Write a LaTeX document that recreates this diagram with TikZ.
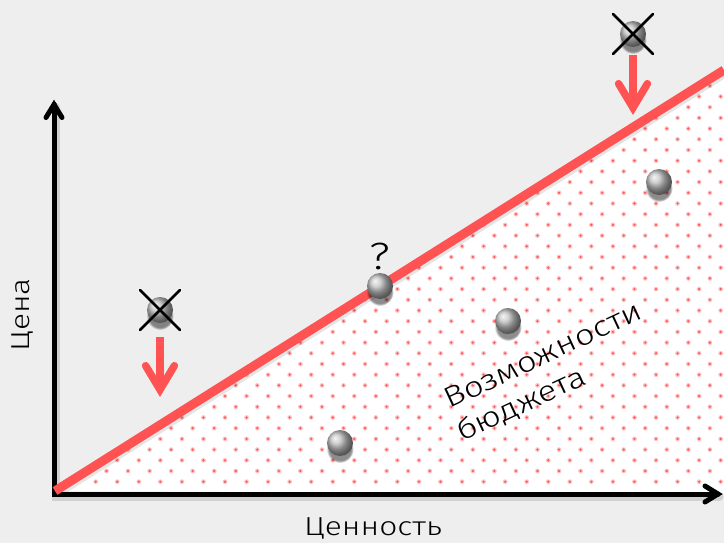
\documentclass[tikz,border=0pt]{standalone}
\usepackage{fontspec}
\setmainfont{Fira Sans}[UprightFont={* Light}, FakeStretch=1.22]
\usetikzlibrary{calc,fadings,shadows}
\definecolor{paper}{HTML}{EEEEEE}
\definecolor{budgetred}{HTML}{FF5252}
\definecolor{dotred}{HTML}{FF5A5A}
\begin{document}
\begin{tikzpicture}[x=1pt,y=-1pt,
  axisline/.style={line width=5pt, black, line cap=round, line join=miter},
  axisshade/.style={line width=8pt, black, opacity=.12, line cap=round, line join=miter},
  budgetline/.style={line width=9pt, budgetred, line cap=butt},
  lineshade/.style={line width=9pt, black, opacity=.10},
  downshaft/.style={line width=7.5pt, budgetred, line cap=butt},
  downhead/.style={line width=7.5pt, budgetred, line cap=round, line join=miter},
  cross/.style={line width=2.6pt, black, line cap=round},
  orb/.style={circle, minimum size=26pt, inner sep=0pt, shading=ball, ball color=gray!50,
    general shadow={shadow yshift=-6pt, shadow scale=1.05, fill=black, opacity=.45,
      path fading=circle with fuzzy edge 20 percent}},
  caption/.style={inner sep=0pt, font=\fontsize{26}{30}\selectfont, text=black},
  budgettext/.style={inner sep=0pt, font=\fontsize{28.5}{32}\selectfont, text=black, rotate=25, anchor=base west}
]
\useasboundingbox (0,0) rectangle (724,543);
\fill[paper] (0,0) rectangle (724,543);

% budget region under the price line
\coordinate (O) at (55,491);
\coordinate (E) at (724,70);
\coordinate (C) at (724,494);
\fill[white] (O) -- (E) -- (C) -- cycle;
\begin{scope}
  \clip (O) -- (E) -- (C) -- cycle;
  \foreach \m in {0,...,40} {
    \foreach \k in {0,...,30} {
      \fill[dotred, opacity=.35] ({74.15+21.55*\k+mod(\m,2)*10.775}, {481.7-10.7*\m}) circle (2.4);
      \fill[dotred] ({74.15+21.55*\k+mod(\m,2)*10.775}, {481.7-10.7*\m}) circle (1.3);
    }
  }
\end{scope}

% axes
\coordinate (orig) at (54,494);
\coordinate (ytip) at (54,104.5);
\coordinate (xtip) at (718,494);
\draw[axisshade, transform canvas={xshift=1.5pt, yshift=-2.5pt}] (ytip) -- (orig) -- (xtip);
\draw[axisline] (ytip) -- (orig) -- (xtip);
\draw[axisline] ($(ytip)+(-8,13)$) -- (ytip) -- ($(ytip)+(8,13)$);
\draw[axisline] ($(xtip)+(-13,-8)$) -- (xtip) -- ($(xtip)+(-13,8)$);

% price line
\draw[lineshade, transform canvas={xshift=1pt, yshift=-3pt}] (O) -- (E);
\draw[budgetline] (O) -- (E);

% options
\coordinate (p1) at (160,310);
\coordinate (p2) at (380,286);
\coordinate (p3) at (508,321);
\coordinate (p4) at (340,443);
\coordinate (p5) at (659,182);
\coordinate (p6) at (633,34);
\node[orb] (b1) at (p1) {};
\node[orb] (b2) at (p2) {};
\node[orb] (b3) at (p3) {};
\node[orb] (b4) at (p4) {};
\node[orb] (b5) at (p5) {};
\node[orb] (b6) at (p6) {};

% rejected options
\draw[cross] ($(b1.center)+(-20,-20)$) -- ($(b1.center)+(20,20)$);
\draw[cross] ($(b1.center)+(-20,20)$) -- ($(b1.center)+(20,-20)$);
\draw[cross] ($(b6.center)+(-20,-20)$) -- ($(b6.center)+(20,20)$);
\draw[cross] ($(b6.center)+(-20,20)$) -- ($(b6.center)+(20,-20)$);

% downward arrows
\coordinate (s1) at (160,337);
\coordinate (t1) at (160,389.7);
\coordinate (s6) at (633,55);
\coordinate (t6) at (633,107.7);
\draw[downshaft] (s1) -- ($(t1)+(0,-3)$);
\draw[downhead] ($(t1)+(-14.4,-24)$) -- (t1) -- ($(t1)+(14.4,-24)$);
\draw[downshaft] (s6) -- ($(t6)+(0,-3)$);
\draw[downhead] ($(t6)+(-14.4,-24)$) -- (t6) -- ($(t6)+(14.4,-24)$);

% labels
\node[caption, font=\fontsize{38}{42}\selectfont] (q) at (380,256) {?};
\node[budgettext] (bud1) at (449,409) {Возможности};
\node[budgettext] (bud2) at (462,442) {бюджета};
\node[caption, rotate=90] (ylab) at (22,315) {Цена};
\node[caption] (xlab) at (373,528) {Ценность};
\end{tikzpicture}
\end{document}
